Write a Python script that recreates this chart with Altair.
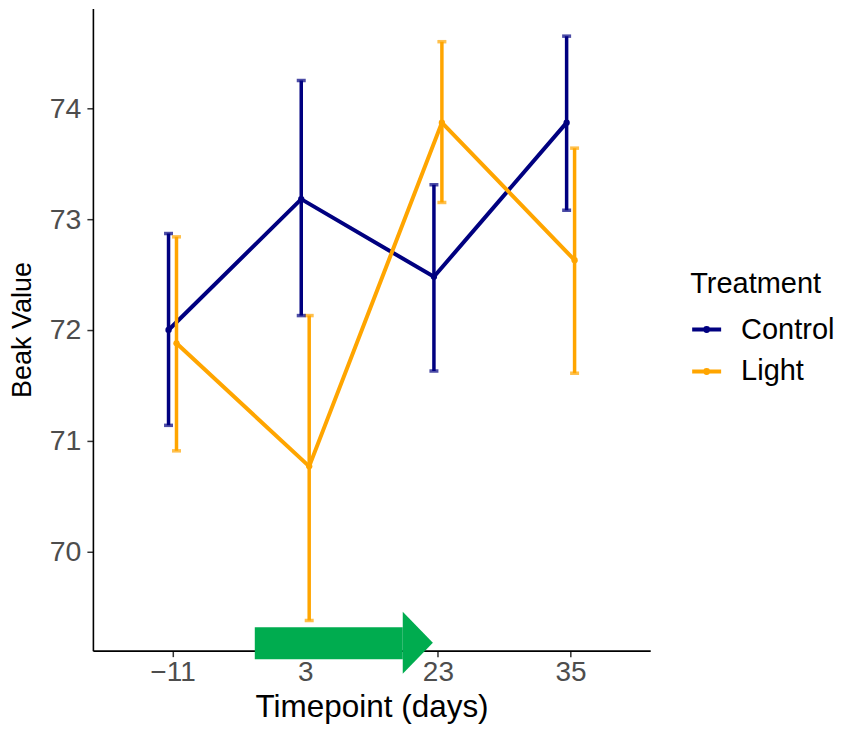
import altair as alt
import pandas as pd
import json

timepoints = ["\u221211", "3", "23", "35"]
treatments = ["Control", "Light"]
control_mean = [72.00, 73.18, 72.48, 73.87]
control_upper = [72.87, 74.25, 73.31, 74.65]
control_lower = [71.14, 72.13, 71.63, 73.08]
light_mean = [71.88, 70.77, 73.87, 72.63]
light_upper = [72.84, 72.13, 74.60, 73.64]
light_lower = [70.91, 69.38, 73.15, 71.61]
y_ticks = [70, 71, 72, 73, 74]

# annotation arrow (in x-index / y-value coordinates)
arrow_shaft_x = [0.62, 1.735]
arrow_shaft_y = [69.03, 69.32]
arrow_head_x = [1.735, 1.962]
arrow_head_top = [69.46, 69.18]
arrow_head_bottom = [68.90, 69.18]

rows = []
for name, m, u, l in [("Control", control_mean, control_upper, control_lower),
                      ("Light", light_mean, light_upper, light_lower)]:
    for i, tp in enumerate(timepoints):
        rows.append({"Treatment": name, "idx": i, "Timepoint": tp,
                     "mean": m[i], "upper": u[i], "lower": l[i]})
df = pd.DataFrame(rows)

FONT = "Liberation Sans"
colors = ["#000080", "#FFA500"]
cscale = alt.Scale(domain=treatments, range=colors)
legend_symbol = "M-1,0L1,0M-0.1,0A0.1,0.1,0,1,1,0.1,0A0.1,0.1,0,1,1,-0.1,0Z"
color = alt.Color("Treatment:N", scale=cscale,
                  legend=alt.Legend(title="Treatment", orient="none",
                                    legendX=598, legendY=262, padding=0,
                                    symbolType=legend_symbol, symbolSize=841,
                                    symbolStrokeWidth=4,
                                    titleFontSize=29, labelFontSize=29,
                                    titleFontWeight="normal", titleColor="black",
                                    labelColor="black", titleFont=FONT, labelFont=FONT,
                                    rowPadding=10, titlePadding=14,
                                    labelOffset=18))
nolegend = alt.Color("Treatment:N", scale=cscale, legend=None)

xscale = alt.Scale(domain=[-0.6, 3.6], nice=False, zero=False)
yscale = alt.Scale(domain=[69.108, 74.9], nice=False, zero=False)

labels_js = json.dumps(timepoints)
xaxis = alt.Axis(title="Timepoint (days)", values=[0, 1, 2, 3],
                 labelExpr=f"{labels_js}[datum.value]",
                 titleFontSize=31.5, labelFontSize=28, titlePadding=5,
                 labelPadding=2)
yaxis = alt.Axis(title="Beak Value", values=y_ticks, format="d",
                 titleFontSize=27, labelFontSize=28.5, titlePadding=13,
                 labelPadding=6)

base = alt.Chart(df).transform_calculate(
    xd="datum.idx + (datum.Treatment == 'Control' ? -0.03 : 0.03)"
)

x = alt.X("xd:Q", scale=xscale, axis=xaxis)
y = alt.Y("mean:Q", scale=yscale, axis=yaxis)

lines = base.mark_line(strokeWidth=4).encode(
    x=x, y=y, color=color, order="idx:Q", detail="Treatment:N")
rules = base.mark_rule(strokeWidth=3.5).encode(
    x=x, y=alt.Y("lower:Q", scale=yscale), y2="upper:Q", color=nolegend)
caps_u = base.mark_tick(orient="horizontal", size=9, thickness=3.5).encode(
    x=x, y=alt.Y("upper:Q", scale=yscale), color=nolegend)
caps_l = base.mark_tick(orient="horizontal", size=9, thickness=3.5).encode(
    x=x, y=alt.Y("lower:Q", scale=yscale), color=nolegend)
points = base.mark_circle(size=40, opacity=1).encode(
    x=x, y=y, color=nolegend)

shaft_df = pd.DataFrame({"x": [arrow_shaft_x[0]], "x2": [arrow_shaft_x[1]],
                         "y": [arrow_shaft_y[0]], "y2": [arrow_shaft_y[1]]})
shaft = alt.Chart(shaft_df).mark_rect(color="#00AC4F").encode(
    x=alt.X("x:Q", scale=xscale), x2="x2:Q",
    y=alt.Y("y:Q", scale=yscale), y2="y2:Q")
head_df = pd.DataFrame({"x": arrow_head_x, "y": arrow_head_top, "y2": arrow_head_bottom})
head = alt.Chart(head_df).mark_area(color="#00AC4F", opacity=1).encode(
    x=alt.X("x:Q", scale=xscale),
    y=alt.Y("y:Q", scale=yscale), y2="y2:Q")

chart = alt.layer(lines, rules, caps_u, caps_l, points, shaft, head).properties(
    width=558, height=643,
    padding={"left": 0, "top": 0, "right": 0, "bottom": 0}
).configure_view(stroke=None).configure_axis(
    grid=False, domainColor="black", domainWidth=1.6,
    tickColor="#333333", tickWidth=1.5, tickSize=6,
    labelColor="#4D4D4D", titleColor="black",
    labelFont=FONT, titleFont=FONT, titleFontWeight="normal"
)

chart.save("out.html", embed_options={"renderer": "svg", "actions": False})
